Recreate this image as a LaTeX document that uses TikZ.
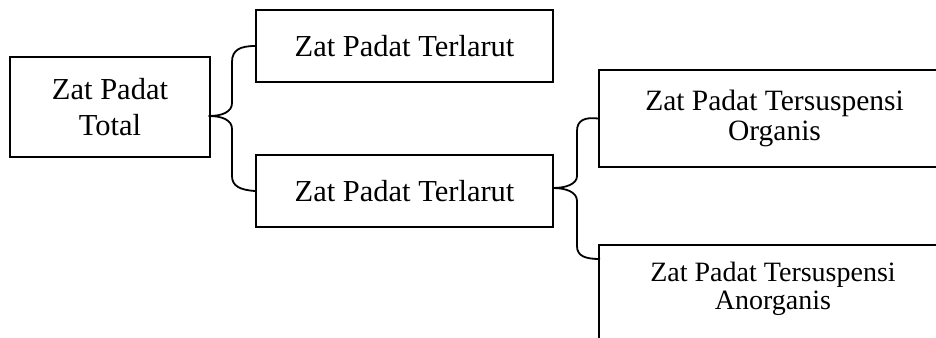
\documentclass[tikz,border=0pt]{standalone}
\usepackage{fontspec}
\setmainfont{Liberation Serif}
\begin{document}
\begin{tikzpicture}[x=1pt,y=-1pt,
 box/.style={draw, line width=1.8pt, rectangle, inner sep=0pt, align=center},
 brace/.style={draw, line width=1.8pt, line join=round}]
\useasboundingbox (0,0) rectangle (936,337);
\clip (0,0) rectangle (936,337);
\node[box, minimum width=200pt, minimum height=100pt, font=\fontsize{30.5}{36}\selectfont] (tot) at (110,107) {Zat Padat\\Total};
\node[box, minimum width=297pt, minimum height=72pt, font=\fontsize{30.5}{36}\selectfont] (ter1) at (404.5,46) {Zat Padat Terlarut};
\node[box, minimum width=297pt, minimum height=72pt, font=\fontsize{30.5}{36}\selectfont] (ter2) at (404.5,191) {Zat Padat Terlarut};
\node[box, minimum width=351pt, minimum height=97pt, font=\fontsize{29.5}{30}\selectfont] (org) at (774.5,118.5) {Zat Padat Tersuspensi\\Organis};
\node[box, minimum width=351pt, minimum height=115pt] (anorg) at (774.5,302.5) {};
\node[align=center, inner sep=0pt, font=\fontsize{28}{28}\selectfont] (anorgtxt) at (773,289) {Zat Padat Tersuspensi\\Anorganis};
% brace 1
\coordinate (tip1) at (209,116);
\draw[brace] (ter1.west) .. controls (240,46) and (232,50) .. (232,62) -- (232,103)
  .. controls (232,112) and (222,116) .. (tip1)
  .. controls (222,116) and (232,120) .. (232,129) -- (232,176)
  .. controls (232,186) and (240,190) .. (ter2.west);
% brace 2
\coordinate (tip2) at (553,188);
\coordinate (anorgw) at (600,259);
\draw[brace] (org.west) .. controls (585,117) and (577,120) .. (577,131) -- (577,176)
  .. controls (577,184) and (566,188) .. (tip2)
  .. controls (566,188) and (577,192) .. (577,201) -- (577,246)
  .. controls (577,256) and (585,259) .. (anorgw);
\end{tikzpicture}
\end{document}
